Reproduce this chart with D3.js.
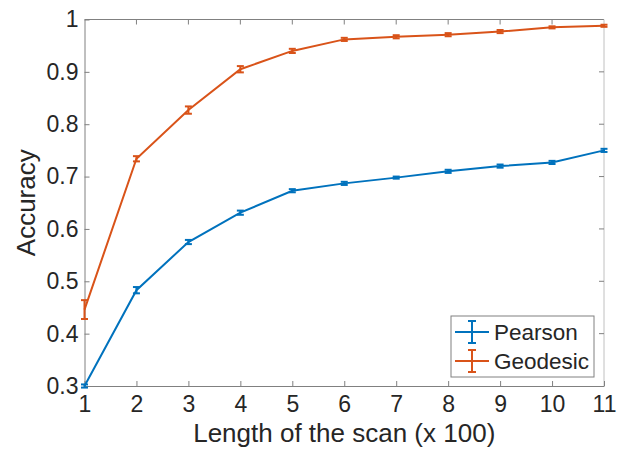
<!DOCTYPE html>
<html>
<head>
<meta charset="utf-8">
<script src="https://cdn.jsdelivr.net/npm/d3@7"></script>
<style>
  body { margin: 0; background: #fff; }
  text { font-family: "Liberation Sans", Arial, sans-serif; fill: #262626; }
</style>
</head>
<body>
<script>
// data
const scanLength = [1, 2, 3, 4, 5, 6, 7, 8, 9, 10, 11];
const pearson    = [0.300, 0.483, 0.575, 0.631, 0.673, 0.687, 0.698, 0.710, 0.720, 0.727, 0.750];
const pearsonErr = [0.003, 0.006, 0.004, 0.004, 0.003, 0.003, 0.002, 0.003, 0.003, 0.003, 0.003];
const geodesic    = [0.446, 0.734, 0.827, 0.905, 0.940, 0.962, 0.967, 0.971, 0.977, 0.985, 0.988];
const geodesicErr = [0.018, 0.005, 0.007, 0.006, 0.004, 0.003, 0.003, 0.003, 0.003, 0.002, 0.002];
const yTicks = [0.3, 0.4, 0.5, 0.6, 0.7, 0.8, 0.9, 1];

const series = [
  { name: "Pearson", values: pearson, err: pearsonErr, color: "#0072BD" },
  { name: "Geodesic", values: geodesic, err: geodesicErr, color: "#D95319" }
];

const width = 625, height = 455;
const margin = { top: 19.5, right: 21, bottom: 69, left: 84.5 };

const x = d3.scaleLinear().domain([1, 11]).range([margin.left, width - margin.right]);
const y = d3.scaleLinear().domain([0.3, 1]).range([height - margin.bottom, margin.top]);

const svg = d3.select("body").append("svg")
  .attr("width", width)
  .attr("height", height);

// box (top/right lighter)
svg.append("line")
  .attr("x1", x(1)).attr("x2", x(11)).attr("y1", y(1)).attr("y2", y(1))
  .attr("stroke", "#808080").attr("stroke-width", 1);
svg.append("line")
  .attr("x1", x(11)).attr("x2", x(11)).attr("y1", y(1)).attr("y2", y(0.3))
  .attr("stroke", "#c0c0c0").attr("stroke-width", 1);

// top / right inside ticks
svg.append("g").selectAll("line").data(scanLength.slice(1, -1)).join("line")
  .attr("x1", d => x(d)).attr("x2", d => x(d))
  .attr("y1", y(1)).attr("y2", y(1) + 5)
  .attr("stroke", "#808080");
svg.append("g").selectAll("line").data(yTicks.slice(1, -1)).join("line")
  .attr("x1", x(11)).attr("x2", x(11) - 5)
  .attr("y1", d => y(d)).attr("y2", d => y(d))
  .attr("stroke", "#808080");

// axes
const xAxis = svg.append("g")
  .attr("transform", `translate(0,${y(0.3)})`)
  .call(d3.axisBottom(x).tickValues(scanLength).tickFormat(d3.format("d")).tickSizeInner(-5).tickSizeOuter(0).tickPadding(10));
const yAxis = svg.append("g")
  .attr("transform", `translate(${x(1)},0)`)
  .call(d3.axisLeft(y).tickValues(yTicks).tickFormat(d => d === 1 ? "1" : d3.format(".1f")(d)).tickSizeInner(-5).tickSizeOuter(0).tickPadding(6));

[xAxis, yAxis].forEach(a => {
  a.select(".domain").attr("stroke", "#808080");
  a.selectAll(".tick line").attr("stroke", "#808080");
  a.selectAll(".tick text").attr("font-size", 23).attr("fill", "#262626")
    .style("font-family", "'Liberation Sans', Arial, sans-serif");
});

// axis labels
svg.append("text")
  .attr("x", (x(1) + x(11)) / 2).attr("y", 442)
  .attr("text-anchor", "middle").attr("font-size", 26)
  .text("Length of the scan (x 100)");
svg.append("text")
  .attr("transform", `translate(35,${(y(0.3) + y(1)) / 2}) rotate(-90)`)
  .attr("text-anchor", "middle").attr("font-size", 26)
  .text("Accuracy");

// lines with error bars
const line = d3.line().x((d, i) => x(scanLength[i])).y(d => y(d));
const cap = 3.5;

series.forEach(s => {
  const g = svg.append("g");
  g.append("path")
    .datum(s.values)
    .attr("fill", "none")
    .attr("stroke", s.color)
    .attr("stroke-width", 2)
    .attr("d", line);

  const eb = g.selectAll(".eb").data(s.values).join("g");
  eb.append("line")
    .attr("x1", (d, i) => x(scanLength[i])).attr("x2", (d, i) => x(scanLength[i]))
    .attr("y1", (d, i) => y(d - s.err[i])).attr("y2", (d, i) => y(d + s.err[i]))
    .attr("stroke", s.color).attr("stroke-width", 2);
  [-1, 1].forEach(sign => {
    eb.append("line")
      .attr("x1", (d, i) => x(scanLength[i]) - cap).attr("x2", (d, i) => x(scanLength[i]) + cap)
      .attr("y1", (d, i) => y(d + sign * s.err[i])).attr("y2", (d, i) => y(d + sign * s.err[i]))
      .attr("stroke", s.color).attr("stroke-width", 2);
  });
});

// legend
const legend = svg.append("g").attr("transform", "translate(451,316)");
legend.append("rect")
  .attr("width", 143).attr("height", 61)
  .attr("fill", "#fff").attr("stroke", "#808080").attr("stroke-width", 1);

const item = legend.selectAll(".item").data(series).join("g")
  .attr("transform", (d, i) => `translate(0,${16 + i * 29})`);
item.append("line")
  .attr("x1", 4).attr("x2", 38).attr("y1", 0).attr("y2", 0)
  .attr("stroke", d => d.color).attr("stroke-width", 2);
item.append("line")
  .attr("x1", 21).attr("x2", 21).attr("y1", -11).attr("y2", 11)
  .attr("stroke", d => d.color).attr("stroke-width", 2);
[-11, 11].forEach(dy => {
  item.append("line")
    .attr("x1", 17).attr("x2", 25).attr("y1", dy).attr("y2", dy)
    .attr("stroke", d => d.color).attr("stroke-width", 2);
});
item.append("text")
  .attr("x", 43).attr("y", 8)
  .attr("font-size", 22.5).attr("fill", "#000")
  .text(d => d.name);
</script>
</body>
</html>
